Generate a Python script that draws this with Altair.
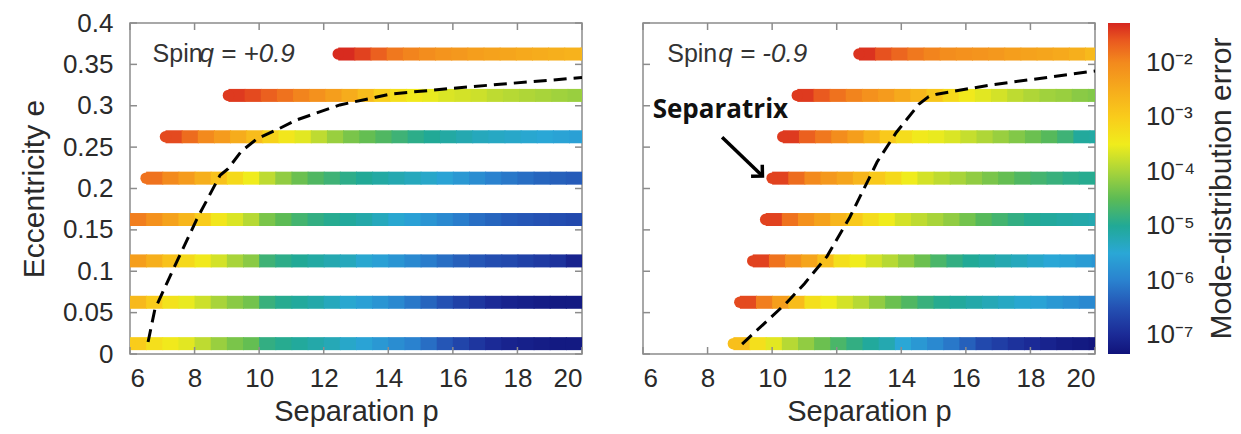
import altair as alt
import pandas as pd

# ---------------- data ----------------
E_ROWS = [0.0125, 0.0625, 0.1125, 0.1625, 0.2125, 0.2625, 0.3125, 0.3625]
P_STEP = 0.5   # sampling step in p of the values below

# Spin q = +0.9 : first p of each row, then log10(error) every 0.5 in p
LEFT_START = [6.0, 6.0, 6.0, 6.0, 6.5, 7.1, 9.05, 12.45]
LEFT_LOGERR = [
    [-3.0, -3.3, -3.45, -3.6, -3.85, -4.1, -4.3, -4.45, -4.85, -4.95, -5.05, -5.15, -5.25, -5.4,
     -5.55, -5.7, -5.85, -6.0, -6.2, -6.45, -6.65, -6.85, -7.0, -7.1, -7.15, -7.2, -7.25, -7.25, -7.3],
    [-2.7, -3.0, -3.35, -3.55, -3.75, -4.0, -4.2, -4.35, -4.8, -4.95, -5.05, -5.15, -5.3, -5.45,
     -5.6, -5.75, -5.9, -6.1, -6.3, -6.5, -6.7, -6.85, -7.0, -7.1, -7.15, -7.2, -7.25, -7.25, -7.25],
    [-2.3, -2.55, -2.85, -3.2, -3.45, -3.7, -4.0, -4.2, -4.75, -4.9, -5.0, -5.1, -5.2, -5.3,
     -5.45, -5.6, -5.75, -5.9, -6.05, -6.2, -6.35, -6.45, -6.55, -6.6, -6.7, -6.8, -6.9, -7.1, -7.2],
    [-1.9, -2.1, -2.35, -2.65, -3.0, -3.4, -3.65, -3.9, -4.3, -4.5, -4.7, -4.85, -4.95, -5.05,
     -5.15, -5.3, -5.45, -5.6, -5.75, -5.9, -6.05, -6.2, -6.3, -6.4, -6.45, -6.5, -6.55, -6.6, -6.65],
    [-1.8, -2.0, -2.25, -2.55, -2.85, -3.2, -3.5, -3.85, -4.15, -4.4, -4.6, -4.75, -4.9, -5.0,
     -5.1, -5.2, -5.3, -5.4, -5.55, -5.7, -5.85, -6.0, -6.1, -6.2, -6.3, -6.35, -6.4, -6.45],
    [-1.5, -1.75, -2.0, -2.25, -2.5, -2.75, -3.1, -3.4, -3.6, -3.85, -4.1, -4.3, -4.45, -4.6,
     -4.75, -4.9, -5.0, -5.1, -5.2, -5.3, -5.35, -5.4, -5.45, -5.5, -5.55, -5.6],
    [-1.4, -1.5, -1.65, -1.8, -1.95, -2.1, -2.3, -2.5, -2.75, -3.05, -3.3, -3.45, -3.55, -3.65,
     -3.7, -3.75, -3.85, -3.9, -3.95, -4.0, -4.05, -4.1],
    [-1.3, -1.45, -1.65, -1.85, -1.95, -2.05, -2.15, -2.2, -2.3, -2.35, -2.4, -2.45, -2.5, -2.55,
     -2.6, -2.65],
]

# Spin q = -0.9
RIGHT_START = [8.8, 9.0, 9.4, 9.8, 10.0, 10.33, 10.78, 12.69]
RIGHT_LOGERR = [
    [-2.8, -3.3, -3.6, -3.9, -4.15, -4.4, -4.65, -4.85, -5.05, -5.2, -5.5, -5.7, -5.9, -6.1,
     -6.35, -6.6, -6.75, -6.9, -7.0, -7.1, -7.2, -7.25, -7.3],
    [-1.5, -1.9, -2.3, -2.75, -3.3, -3.5, -3.7, -3.9, -4.15, -4.4, -4.6, -4.8, -4.95, -5.05,
     -5.15, -5.25, -5.35, -5.45, -5.55, -5.7, -5.8, -5.9, -5.95],
    [-1.45, -1.8, -2.1, -2.4, -2.8, -3.3, -3.5, -3.7, -3.9, -4.15, -4.4, -4.65, -4.85, -5.0,
     -5.1, -5.2, -5.3, -5.4, -5.5, -5.55, -5.65, -5.75],
    [-1.45, -1.8, -2.1, -2.35, -2.65, -2.95, -3.25, -3.5, -3.7, -3.85, -4.0, -4.15, -4.35, -4.55,
     -4.7, -4.85, -4.95, -5.05, -5.1, -5.15, -5.2],
    [-1.45, -1.75, -2.0, -2.2, -2.4, -2.65, -2.95, -3.2, -3.5, -3.7, -3.85, -4.0, -4.15, -4.3,
     -4.45, -4.6, -4.7, -4.8, -4.9, -4.95, -5.0],
    [-1.4, -1.65, -1.85, -2.05, -2.3, -2.6, -2.95, -3.25, -3.45, -3.55, -3.65, -3.8, -3.95, -4.1,
     -4.25, -4.4, -4.55, -4.75, -5.05, -5.1],
    [-1.4, -1.6, -1.8, -1.95, -2.1, -2.25, -2.45, -2.65, -2.9, -3.2, -3.45, -3.6, -3.7, -3.85,
     -3.95, -4.05, -4.1, -4.2, -4.25],
    [-1.35, -1.55, -1.7, -1.85, -1.95, -2.05, -2.1, -2.15, -2.2, -2.3, -2.35, -2.4, -2.45, -2.55,
     -2.7],
]

# separatrix (dashed curves)
SEP_LEFT_P = [6.56, 6.77, 7.3, 8.07, 8.79, 9.04, 9.45, 9.93, 10.6, 11.17, 12.5, 14.05, 15.4, 17.46, 20.0]
SEP_LEFT_E = [0.0145, 0.054, 0.099, 0.163, 0.216, 0.224, 0.245, 0.26, 0.272, 0.283, 0.301, 0.314, 0.319, 0.326, 0.334]
SEP_RIGHT_P = [9.07, 10.45, 11.0, 11.7, 12.4, 13.0, 13.25, 13.85, 14.55, 14.85, 15.1, 16.75, 20.0]
SEP_RIGHT_E = [0.012, 0.062, 0.085, 0.118, 0.165, 0.212, 0.232, 0.268, 0.302, 0.311, 0.314, 0.325, 0.342]

# arrow of the "Separatrix" label (tail, head)
ARROW_P = [8.45, 9.7]
ARROW_E = [0.262, 0.215]

X_TICKS = [6, 8, 10, 12, 14, 16, 18, 20]
Y_TICKS = [0, 0.05, 0.1, 0.15, 0.2, 0.25, 0.3, 0.35, 0.4]
CBAR_TICKS = [-7, -6, -5, -4, -3, -2]
CBAR_LABELS = ["10⁻⁷", "10⁻⁶", "10⁻⁵", "10⁻⁴", "10⁻³", "10⁻²"]
CBAR_TITLE = "Mode-distribution error"

# colour bar (log10 error -> colour)
C_DOM = [-7.35, -7.0, -6.5, -6.0, -5.5, -5.0, -4.5, -4.0, -3.5, -3.0, -2.5, -2.0, -1.6, -1.27]
C_RNG = ["#10137a", "#1b2a96", "#2451b3", "#2a82cf", "#2aa7d6", "#21a996", "#5cbb55",
         "#a8d43a", "#f0ec1c", "#f9cc1b", "#f6ac1c", "#f38a1d", "#ea5a1f", "#d6261f"]

# ---------------- layout constants ----------------
W, H = 452, 331
FONT = "Liberation Sans"
GRAY = "#8c8c8c"
TXT = "#2a2a2a"


def table(starts, logerrs):
    recs = []
    for e, s, vals in zip(E_ROWS, starts, logerrs):
        for i, v in enumerate(vals):
            p = s + P_STEP * i
            recs.append({"e": e, "p": p, "p2": p + P_STEP * 1.06, "err": v, "first": i == 0})
    return pd.DataFrame(recs)


xs = alt.Scale(domain=[6, 20], nice=False, zero=False)
ys = alt.Scale(domain=[0, 0.4], nice=False, zero=False)
cs = alt.Scale(domain=[C_DOM[0], C_DOM[-1]], nice=False, zero=False)

color = alt.Color("err:Q", scale=alt.Scale(domain=C_DOM, range=C_RNG, interpolate="rgb"), legend=None)

x_axis = alt.Axis(values=X_TICKS, format="d", ticks=False, domain=False, grid=False,
                  labelFont=FONT, labelFontSize=26, labelColor=TXT, labelPadding=11,
                  title="Separation p", titleFont=FONT, titleFontSize=29, titleFontWeight="normal",
                  titleColor=TXT, titlePadding=6)
y_axis = alt.Axis(values=Y_TICKS, format="~g", ticks=False, domain=False, grid=False,
                  labelFont=FONT, labelFontSize=26, labelColor=TXT, labelPadding=17,
                  title="Eccentricity e", titleFont=FONT, titleFontSize=30, titleFontWeight="normal",
                  titleColor=TXT, titlePadding=13)


def panel(starts, logerrs, sep_p, sep_e, spin_text, show_y):
    df = table(starts, logerrs)
    X = alt.X("p:Q", scale=xs, axis=x_axis)
    Y = alt.Y("e:Q", scale=ys, axis=y_axis if show_y else None)

    base = alt.Chart(df)
    segs = base.mark_rule(strokeWidth=13, strokeCap="butt", clip=True).encode(
        x=X, x2="p2:Q", y=Y, color=color)
    caps = base.transform_filter("datum.first").mark_circle(size=133, opacity=1, clip=True).encode(
        x=X, y=Y, color=color)

    sep = alt.Chart(pd.DataFrame({"p": sep_p, "e": sep_e})).mark_line(
        color="black", strokeWidth=3, strokeDash=[13, 7], clip=True).encode(x=X, y=Y)

    ann = pd.DataFrame({"p": [spin_text[0]], "e": [0.3625], "t": ["Spin"]})
    ann2 = pd.DataFrame({"p": [spin_text[1]], "e": [0.3625], "t": [spin_text[2]]})
    t1 = alt.Chart(ann).mark_text(align="left", baseline="middle", font=FONT, fontSize=25,
                                  color="#333333").encode(x=X, y=Y, text="t:N")
    t2 = alt.Chart(ann2).mark_text(align="left", baseline="middle", font=FONT, fontSize=26,
                                   fontStyle="italic", color="#333333").encode(x=X, y=Y, text="t:N")

    xt = alt.Chart(pd.DataFrame({"p": X_TICKS}))
    yt = alt.Chart(pd.DataFrame({"e": Y_TICKS}))
    tick_style = dict(color=GRAY, strokeWidth=1.5)
    ticks = [
        xt.mark_rule(**tick_style).encode(x=X, y=alt.value(0), y2=alt.value(7)),
        xt.mark_rule(**tick_style).encode(x=X, y=alt.value(H), y2=alt.value(H - 7)),
        yt.mark_rule(**tick_style).encode(y=Y, x=alt.value(0), x2=alt.value(7)),
        yt.mark_rule(**tick_style).encode(y=Y, x=alt.value(W), x2=alt.value(W - 7)),
    ]
    layers = [segs, caps, sep, t1, t2] + ticks
    return layers, X, Y


left_layers, _, _ = panel(LEFT_START, LEFT_LOGERR, SEP_LEFT_P, SEP_LEFT_E, (6.7, 8.15, "q  =  +0.9"), True)
right_layers, XR, YR = panel(RIGHT_START, RIGHT_LOGERR, SEP_RIGHT_P, SEP_RIGHT_E, (6.75, 8.33, "q  =  -0.9"), False)

lab = alt.Chart(pd.DataFrame({"p": [6.3], "e": [0.295], "t": ["Separatrix"]})).mark_text(
    align="left", baseline="middle", font="Open Sans", fontWeight="bold", fontSize=26, color="#111111"
).encode(x=XR, y=YR, text="t:N")
arrow_df = pd.DataFrame({"p": ARROW_P, "e": ARROW_E})
shaft = alt.Chart(arrow_df).mark_line(color="black", strokeWidth=3.5).encode(x=XR, y=YR)
head = alt.Chart(arrow_df.iloc[[1]]).mark_point(
    shape="M-1,-1L0,0L-1,1", filled=False, size=260, angle=44, strokeWidth=3.5,
    color="black", opacity=1).encode(x=XR, y=YR)

# colour bar drawn beside the right panel, on its own (log-error) vertical scale
span = C_DOM[-1] - C_DOM[0]
grad = {"gradient": "linear", "x1": 0, "y1": 1, "x2": 0, "y2": 0,
        "stops": [{"offset": (d - C_DOM[0]) / span, "color": c} for d, c in zip(C_DOM, C_RNG)]}
cbar = alt.Chart(pd.DataFrame({"lo": [C_DOM[0]], "hi": [C_DOM[-1]]})).mark_rect(
    color=grad, clip=False).encode(
    x=alt.value(W + 13), x2=alt.value(W + 35),
    y=alt.Y("lo:Q", scale=cs, axis=None), y2="hi:Q")
cbar_lab = alt.Chart(pd.DataFrame({"v": CBAR_TICKS, "t": CBAR_LABELS})).mark_text(
    align="left", baseline="middle", font=FONT, fontSize=26, color=TXT).encode(
    x=alt.value(W + 51), y=alt.Y("v:Q", scale=cs, axis=None), text="t:N")
cbar_title = alt.Chart(pd.DataFrame({"t": [CBAR_TITLE]})).mark_text(
    angle=270, align="center", baseline="middle", font=FONT, fontSize=30, color=TXT
).encode(x=alt.value(W + 127), y=alt.value(H / 2), text="t:N")

left = alt.layer(*left_layers).properties(width=W, height=H)
right = alt.layer(*(right_layers + [lab, shaft, head, cbar, cbar_lab, cbar_title])).resolve_scale(
    y="independent").properties(width=W, height=H)

chart = alt.hconcat(left, right, spacing=57).properties(
    padding={"left": 18, "top": 9, "right": 0, "bottom": 2}
).configure_view(stroke=GRAY, strokeWidth=1.5)

chart.save("out.html", embed_options={"renderer": "svg", "actions": False})
